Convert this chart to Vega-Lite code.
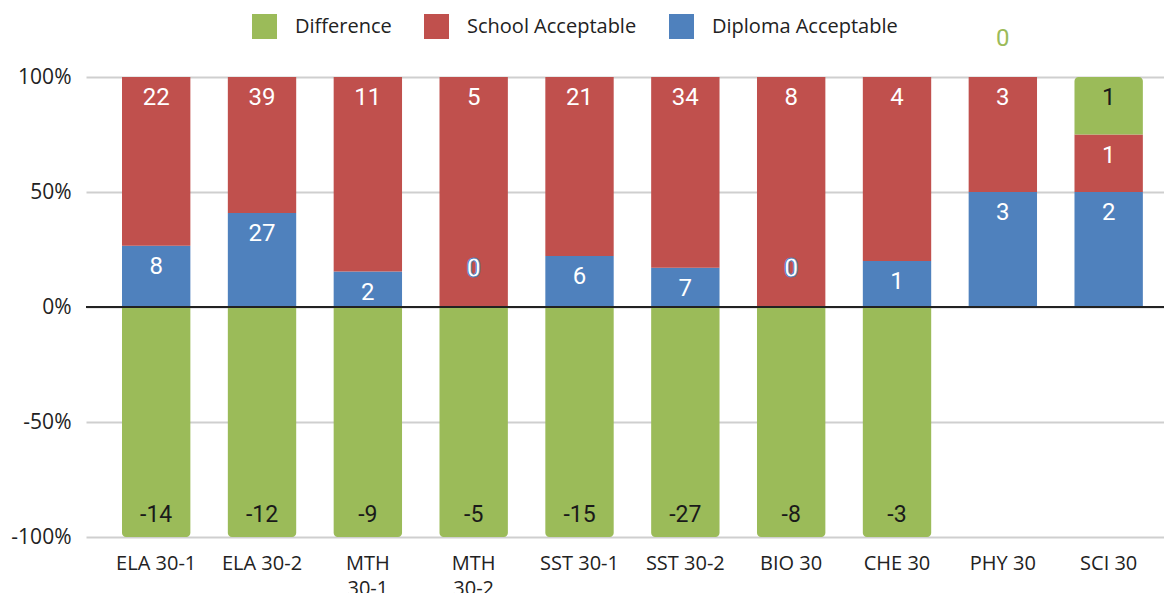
{
  "$schema": "https://vega.github.io/schema/vega-lite/v6.json",
  "autosize": "none",
  "width": 1078,
  "height": 460,
  "padding": {"left": 86, "top": 77, "right": 0, "bottom": 56},
  "background": "white",
  "config": {
    "view": {"stroke": null},
    "font": "Open Sans"
  },
  "data": {
    "values": [
      {"subject": "ELA 30-1", "series": "Diploma Acceptable", "ord": 1, "value": 8},
      {"subject": "ELA 30-1", "series": "School Acceptable", "ord": 2, "value": 22},
      {"subject": "ELA 30-1", "series": "Difference", "ord": 3, "value": -14},
      {"subject": "ELA 30-2", "series": "Diploma Acceptable", "ord": 1, "value": 27},
      {"subject": "ELA 30-2", "series": "School Acceptable", "ord": 2, "value": 39},
      {"subject": "ELA 30-2", "series": "Difference", "ord": 3, "value": -12},
      {"subject": "MTH 30-1", "series": "Diploma Acceptable", "ord": 1, "value": 2},
      {"subject": "MTH 30-1", "series": "School Acceptable", "ord": 2, "value": 11},
      {"subject": "MTH 30-1", "series": "Difference", "ord": 3, "value": -9},
      {"subject": "MTH 30-2", "series": "Diploma Acceptable", "ord": 1, "value": 0},
      {"subject": "MTH 30-2", "series": "School Acceptable", "ord": 2, "value": 5},
      {"subject": "MTH 30-2", "series": "Difference", "ord": 3, "value": -5},
      {"subject": "SST 30-1", "series": "Diploma Acceptable", "ord": 1, "value": 6},
      {"subject": "SST 30-1", "series": "School Acceptable", "ord": 2, "value": 21},
      {"subject": "SST 30-1", "series": "Difference", "ord": 3, "value": -15},
      {"subject": "SST 30-2", "series": "Diploma Acceptable", "ord": 1, "value": 7},
      {"subject": "SST 30-2", "series": "School Acceptable", "ord": 2, "value": 34},
      {"subject": "SST 30-2", "series": "Difference", "ord": 3, "value": -27},
      {"subject": "BIO 30", "series": "Diploma Acceptable", "ord": 1, "value": 0},
      {"subject": "BIO 30", "series": "School Acceptable", "ord": 2, "value": 8},
      {"subject": "BIO 30", "series": "Difference", "ord": 3, "value": -8},
      {"subject": "CHE 30", "series": "Diploma Acceptable", "ord": 1, "value": 1},
      {"subject": "CHE 30", "series": "School Acceptable", "ord": 2, "value": 4},
      {"subject": "CHE 30", "series": "Difference", "ord": 3, "value": -3},
      {"subject": "PHY 30", "series": "Diploma Acceptable", "ord": 1, "value": 3},
      {"subject": "PHY 30", "series": "School Acceptable", "ord": 2, "value": 3},
      {"subject": "PHY 30", "series": "Difference", "ord": 3, "value": 0},
      {"subject": "SCI 30", "series": "Diploma Acceptable", "ord": 1, "value": 2},
      {"subject": "SCI 30", "series": "School Acceptable", "ord": 2, "value": 1},
      {"subject": "SCI 30", "series": "Difference", "ord": 3, "value": 1}
    ]
  },
  "transform": [
    {"calculate": "max(datum.value, 0)", "as": "posPart"},
    {"calculate": "-min(datum.value, 0)", "as": "negPart"},
    {"joinaggregate": [{"op": "sum", "field": "posPart", "as": "sumPos"}, {"op": "sum", "field": "negPart", "as": "sumNeg"}], "groupby": ["subject"]},
    {"calculate": "datum.value >= 0 ? (datum.sumPos > 0 ? datum.value / datum.sumPos : 0) : datum.value / datum.sumNeg", "as": "pct"},
    {"stack": "pct", "groupby": ["subject"], "sort": [{"field": "ord", "order": "ascending"}], "as": ["y0", "y1"], "offset": "zero"}
  ],
  "encoding": {
    "x": {
      "field": "subject", "type": "nominal", "sort": null,
      "scale": {"paddingInner": 0.354, "paddingOuter": 0.27, "align": 0.63},
      "axis": {
        "title": null, "domain": false, "ticks": false, "labelAngle": 0,
        "labelFontSize": 20, "labelColor": "#222222", "labelPadding": 16,
        "labelLineHeight": 25,
        "labelExpr": "indexof(datum.label, 'MTH') == 0 ? split(datum.label, ' ') : datum.label"
      }
    }
  },
  "layer": [
    {
      "mark": {"type": "bar"},
      "transform": [{"filter": "datum.series != 'Difference'"}],
      "encoding": {
        "y": {
          "field": "y0", "type": "quantitative",
          "scale": {"domain": [-1, 1], "nice": false},
          "axis": {
            "title": null, "values": [-1, -0.5, 0, 0.5, 1], "domain": false, "ticks": false,
            "grid": true, "gridColor": "#cfcfcf", "gridWidth": 2,
            "labelFontSize": 21, "labelColor": "#222222", "labelPadding": 15,
            "labelExpr": "replace(format(datum.value, '.0%'), '\u2212', '-')"
          }
        },
        "y2": {"field": "y1"},
        "color": {
          "field": "series", "type": "nominal",
          "scale": {"domain": ["Difference", "School Acceptable", "Diploma Acceptable"], "range": ["#9BBB59", "#C0504D", "#4F81BD"]},
          "legend": {
            "title": null, "orient": "none", "legendX": 166, "legendY": -63,
            "direction": "horizontal", "symbolType": "square", "symbolSize": 625,
            "symbolStrokeWidth": 0, "symbolOpacity": 1, "labelFontSize": 20, "labelColor": "#222222",
            "labelOffset": 18, "columnPadding": 32, "padding": 0, "labelLimit": 400
          }
        }
      }
    },
    {
      "mark": {"type": "bar", "cornerRadiusBottomLeft": 4, "cornerRadiusBottomRight": 4},
      "transform": [{"filter": "datum.series == 'Difference' && datum.value < 0"}],
      "encoding": {
        "y": {"field": "y0", "type": "quantitative"},
        "y2": {"field": "y1"},
        "color": {"field": "series", "type": "nominal"}
      }
    },
    {
      "mark": {"type": "bar", "cornerRadiusTopLeft": 4, "cornerRadiusTopRight": 4},
      "transform": [{"filter": "datum.series == 'Difference' && datum.value > 0"}],
      "encoding": {
        "y": {"field": "y0", "type": "quantitative"},
        "y2": {"field": "y1"},
        "color": {"field": "series", "type": "nominal"}
      }
    },
    {
      "mark": {"type": "rule", "stroke": "#222222", "strokeWidth": 2},
      "encoding": {"x": {"value": 0}, "x2": {"value": "width"}, "y": {"datum": 0}}
    },
    {
      "mark": {"type": "text", "font": "Roboto", "fontSize": 24, "baseline": "middle", "dy": 21},
      "transform": [{"filter": "datum.value > 0"}],
      "encoding": {
        "y": {"field": "y1", "type": "quantitative"},
        "text": {"field": "value", "type": "nominal"},
        "color": {"condition": {"test": "datum.series == 'Difference'", "value": "#1a1a1a"}, "value": "white"}
      }
    },
    {
      "mark": {"type": "text", "font": "Roboto", "fontSize": 23, "baseline": "middle", "dy": -22, "color": "#1a1a1a"},
      "transform": [{"filter": "datum.value < 0"}],
      "encoding": {
        "y": {"field": "y1", "type": "quantitative"},
        "text": {"field": "value", "type": "nominal"}
      }
    },
    {
      "mark": {"type": "text", "font": "Roboto", "fontSize": 25, "fontWeight": "bold", "baseline": "middle", "dy": -38, "fill": "white", "stroke": "#4F81BD", "strokeWidth": 1},
      "transform": [{"filter": "datum.value == 0 && datum.series == 'Diploma Acceptable'"}],
      "encoding": {
        "y": {"field": "y1", "type": "quantitative"},
        "text": {"field": "value", "type": "nominal"}
      }
    },
    {
      "mark": {"type": "text", "font": "Roboto", "fontSize": 24, "baseline": "middle", "dy": -38, "color": "#9BBB59"},
      "transform": [{"filter": "datum.value == 0 && datum.series == 'Difference'"}],
      "encoding": {
        "y": {"field": "y1", "type": "quantitative"},
        "text": {"field": "value", "type": "nominal"}
      }
    }
  ]
}
